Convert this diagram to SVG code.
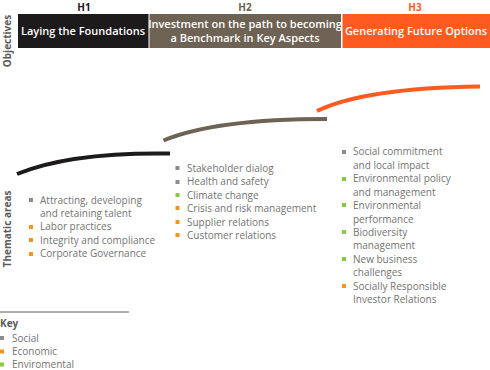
<svg xmlns="http://www.w3.org/2000/svg" width="490" height="370" viewBox="0 0 490 370">
<style>
.h{font-family:"Open Sans","Liberation Sans",sans-serif;font-weight:700;font-size:10px;text-anchor:middle}
.bt{font-family:"Open Sans","Liberation Sans",sans-serif;font-weight:600;font-size:11px;fill:#fff;text-anchor:middle}
.side{font-family:"Open Sans","Liberation Sans",sans-serif;font-weight:700;font-size:10px;fill:#5a5a5a;text-anchor:middle}
.t{font-family:"Open Sans","Liberation Sans",sans-serif;font-size:10px;fill:#737373}
.k{font-family:"Open Sans","Liberation Sans",sans-serif;font-size:10px;font-weight:700;fill:#5a5a5a}
.s{fill:#8c8c8c}.e{fill:#f7941d}.g{fill:#8dc63f}
.c{fill:none;stroke-width:4;stroke-linecap:butt}
</style>
<g id="objectives-label"><text class="side" transform="translate(11,41) rotate(-90)">Objectives</text></g>
<g id="thematic-label"><text class="side" transform="translate(11,229) rotate(-90)">Thematic areas</text></g>
<g id="h1">
<text class="h" x="84" y="11" fill="#1a1718">H1</text>
<rect x="18" y="14" width="130.5" height="34" fill="#1c1a1b"/>
<text class="bt" x="83" y="35">Laying the Foundations</text>
</g>
<g id="h2">
<text class="h" x="245" y="11" fill="#6b5f52">H2</text>
<rect x="149.5" y="14" width="191.5" height="34" fill="#6d6253"/>
<text class="bt" x="245" y="28">Investment on the path to becoming</text>
<text class="bt" x="245" y="42">a Benchmark in Key Aspects</text>
</g>
<g id="h3">
<text class="h" x="415" y="11" fill="#ff5a1f">H3</text>
<rect x="342.5" y="14" width="147.5" height="34" fill="#ff5a1f"/>
<text class="bt" x="416" y="35">Generating Future Options</text>
</g>
<g id="connectors">
<path class="c" stroke="#1c1a1b" d="M17,174 Q70,152 170,153.5"/>
<path class="c" stroke="#6d6253" d="M163.5,140.5 Q215,119 327,119"/>
<path class="c" stroke="#ff5a1f" d="M317,111 Q365,88 480,86.5"/>
</g>
<g id="list-h1">
<rect class="s" x="29" y="198" width="4" height="4"/><text class="t" x="40" y="204">Attracting, developing</text>
<text class="t" x="40" y="217">and retaining talent</text>
<rect class="e" x="29" y="225" width="4" height="4"/><text class="t" x="40" y="230">Labor practices</text>
<rect class="e" x="29" y="238" width="4" height="4"/><text class="t" x="40" y="244">Integrity and compliance</text>
<rect class="e" x="29" y="252" width="4" height="4"/><text class="t" x="40" y="257">Corporate Governance</text>
</g>
<g id="list-h2">
<rect class="s" x="175.5" y="166" width="4" height="4"/><text class="t" x="187" y="172">Stakeholder dialog</text>
<rect class="s" x="175.5" y="180" width="4" height="4"/><text class="t" x="187" y="185">Health and safety</text>
<rect class="g" x="175.5" y="193" width="4" height="4"/><text class="t" x="187" y="198.5">Climate change</text>
<rect class="e" x="175.5" y="206" width="4" height="4"/><text class="t" x="187" y="212">Crisis and risk management</text>
<rect class="e" x="175.5" y="220" width="4" height="4"/><text class="t" x="187" y="225.5">Supplier relations</text>
<rect class="e" x="175.5" y="233" width="4" height="4"/><text class="t" x="187" y="239">Customer relations</text>
</g>
<g id="list-h3">
<rect class="s" x="342" y="150" width="4" height="4"/><text class="t" x="353" y="155">Social commitment</text>
<text class="t" x="353" y="169">and local impact</text>
<rect class="g" x="342" y="177" width="4" height="4"/><text class="t" x="353" y="182">Environmental policy</text>
<text class="t" x="353" y="195.5">and management</text>
<rect class="g" x="342" y="203" width="4" height="4"/><text class="t" x="353" y="209">Environmental</text>
<text class="t" x="353" y="222.5">performance</text>
<rect class="g" x="342" y="230" width="4" height="4"/><text class="t" x="353" y="235.5">Biodiversity</text>
<text class="t" x="353" y="249">management</text>
<rect class="g" x="342" y="257" width="4" height="4"/><text class="t" x="353" y="262.5">New business</text>
<text class="t" x="353" y="276">challenges</text>
<rect class="e" x="342" y="284" width="4" height="4"/><text class="t" x="353" y="289.5">Socially Responsible</text>
<text class="t" x="353" y="303">Investor Relations</text>
</g>
<g id="key">
<line x1="0" y1="312" x2="129" y2="312" stroke="#5a5a5a" stroke-width="1"/>
<text class="k" x="0" y="327">Key</text>
<rect class="s" x="0" y="336" width="4" height="4"/><text class="t" x="12" y="341.5">Social</text>
<rect class="e" x="0" y="349.5" width="4" height="4"/><text class="t" x="12" y="355">Economic</text>
<rect class="g" x="0" y="362.5" width="4" height="4"/><text class="t" x="12" y="368">Enviromental</text>
</g>
</svg>
